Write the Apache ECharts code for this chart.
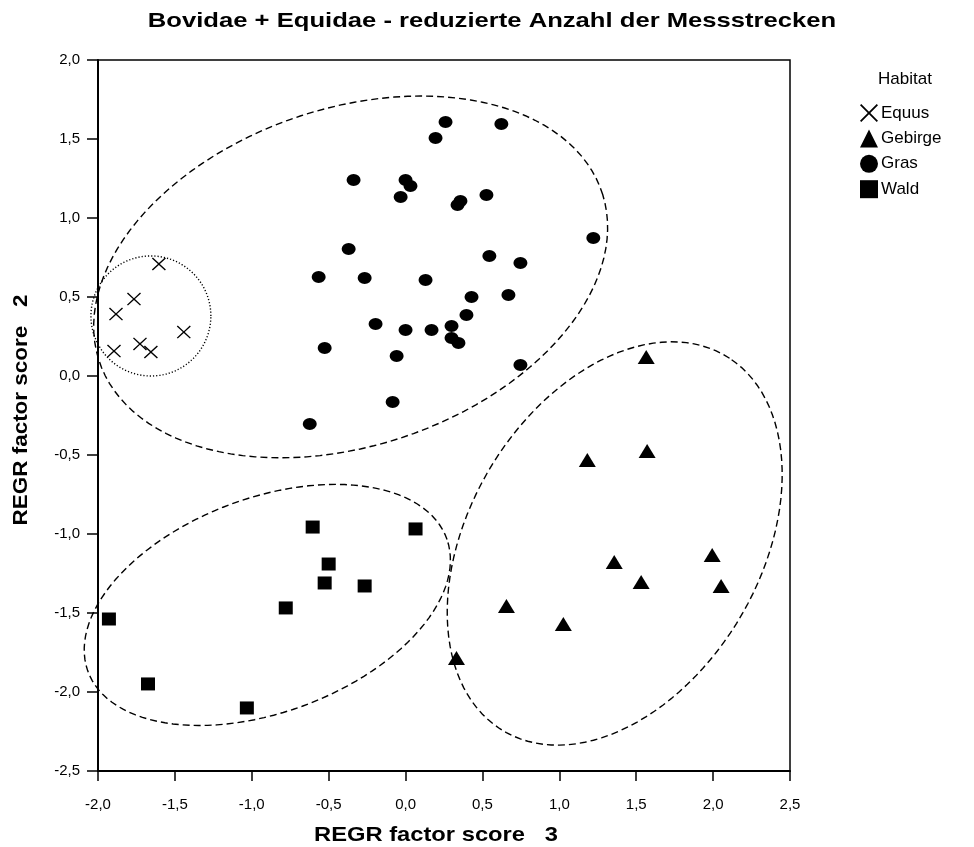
<!DOCTYPE html>
<html>
<head>
<meta charset="utf-8">
<script src="https://cdn.jsdelivr.net/npm/echarts@6/dist/echarts.min.js"></script>
<style>
html,body{margin:0;padding:0;background:#fff;}
#chart{width:974px;height:847px;}
</style>
</head>
<body>
<div id="chart"></div>
<script>
// ---- data ----
const equus = [[-1.604,0.709],[-1.766,0.487],[-1.883,0.392],[-1.442,0.278],[-1.727,0.203],[-1.656,0.152],[-1.896,0.158]];
const gebirge = [[1.565,0.120],[1.182,-0.532],[1.571,-0.475],[1.357,-1.177],[1.532,-1.304],[1.994,-1.133],[2.052,-1.329],[0.656,-1.456],[1.026,-1.570],[0.331,-1.785]];
const gras = [[0.260,1.608],[0.195,1.506],[0.623,1.595],[0.000,1.241],[0.032,1.203],[-0.032,1.133],[0.357,1.108],[0.338,1.082],[0.526,1.146],[1.221,0.873],[0.545,0.759],[0.747,0.715],[0.130,0.608],[0.429,0.500],[0.669,0.513],[0.396,0.386],[0.169,0.291],[0.000,0.291],[0.299,0.316],[0.299,0.241],[0.344,0.209],[-0.058,0.127],[0.747,0.070],[-0.338,1.241],[-0.370,0.804],[-0.565,0.627],[-0.266,0.620],[-0.195,0.329],[-0.526,0.177],[-0.084,-0.165],[-0.623,-0.304]];
const wald = [[-0.604,-0.956],[0.065,-0.968],[-0.500,-1.190],[-0.526,-1.310],[-0.266,-1.329],[-0.779,-1.468],[-1.929,-1.538],[-1.675,-1.949],[-1.032,-2.101]];
// annotation ellipses: [centerX, centerY, semiAxisA, semiAxisB, angleDeg]
const dashedEllipses = [[-0.357,0.627,1.72,1.07,17.6],[-0.899,-1.449,1.24,0.68,19.5],[1.36,-1.06,1.39,0.94,57.5]];
const dottedEllipses = [[-1.656,0.380,0.39,0.38,0]];
const habitatNames = ['Equus','Gebirge','Gras','Wald'];
const xTicks = {min:-2.0, max:2.5, step:0.5};
const yTicks = {min:-2.5, max:2.0, step:0.5};

const FONT = '"Liberation Sans", Arial, sans-serif';
const crossPath = 'path://M0,7L7,0L50,43L93,0L100,7L57,50L100,93L93,100L50,57L7,100L0,93L43,50Z';
const fmt = v => v.toFixed(1).replace('.', ',');

function ellipseRenderer(dash){
  return function(params, api){
    const cx = api.value(0), cy = api.value(1), a = api.value(2), b = api.value(3), ang = api.value(4)*Math.PI/180;
    const pts = [];
    const N = 120;
    for(let i=0;i<N;i++){
      const t = 2*Math.PI*i/N;
      const ex = a*Math.cos(t), ey = b*Math.sin(t);
      const x = cx + ex*Math.cos(ang) - ey*Math.sin(ang);
      const y = cy + ex*Math.sin(ang) + ey*Math.cos(ang);
      pts.push(api.coord([x,y]));
    }
    return {type:'polygon', shape:{points:pts}, silent:true,
      style:{fill:'none', stroke:'#000', lineWidth:1.4, lineDash:dash}};
  };
}

const chart = echarts.init(document.getElementById('chart'), null, {renderer:'canvas'});
chart.setOption({
  backgroundColor:'#fff',
  animation:false,
  grid:{left:98, right:184, top:60, bottom:76, show:true, borderColor:'#000', borderWidth:1.5, backgroundColor:'transparent'},
  xAxis:{type:'value', min:xTicks.min, max:xTicks.max, interval:xTicks.step,
    axisLine:{show:true, onZero:false, lineStyle:{color:'#000', width:2}},
    axisTick:{show:true, length:10, lineStyle:{color:'#000', width:1.5}},
    axisLabel:{formatter:fmt, color:'#000', fontFamily:FONT, fontSize:15, margin:26},
    splitLine:{show:false}},
  yAxis:{type:'value', min:yTicks.min, max:yTicks.max, interval:yTicks.step,
    axisLine:{show:true, onZero:false, lineStyle:{color:'#000', width:2}},
    axisTick:{show:true, length:11, lineStyle:{color:'#000', width:1.5}},
    axisLabel:{formatter:fmt, color:'#000', fontFamily:FONT, fontSize:15, margin:18},
    splitLine:{show:false}},
  legend:{orient:'vertical', left:860, top:104, padding:0, itemWidth:18, itemHeight:18, itemGap:7.4,
    data:habitatNames, textStyle:{fontFamily:FONT, fontSize:17, color:'#000', padding:[0,0,0,-2]}},
  graphic:[
    {type:'text', x:492, y:21, scaleX:1.22, style:{text:'Bovidae + Equidae - reduzierte Anzahl der Messstrecken', font:'bold 21px '+FONT, fill:'#000', textAlign:'center', textVerticalAlign:'middle'}},
    {type:'text', x:436, y:835, scaleX:1.13, style:{text:'REGR factor score   3', font:'bold 21px '+FONT, fill:'#000', textAlign:'center', textVerticalAlign:'middle'}},
    {type:'text', x:21, y:410, rotation:Math.PI/2, scaleX:1.07, style:{text:'REGR factor score   2', font:'bold 21px '+FONT, fill:'#000', textAlign:'center', textVerticalAlign:'middle'}},
    {type:'text', x:905, y:79, style:{text:'Habitat', font:'17px '+FONT, fill:'#000', textAlign:'center', textVerticalAlign:'middle'}}
  ],
  series:[
    {type:'custom', name:'ellipsesDashed', renderItem:ellipseRenderer([7,4]), data:dashedEllipses, clip:false, z:1, silent:true},
    {type:'custom', name:'ellipseDotted', renderItem:ellipseRenderer([1.2,2]), data:dottedEllipses, clip:false, z:1, silent:true},
    {type:'scatter', name:'Equus', data:equus, symbol:crossPath, symbolSize:[14,13], itemStyle:{color:'#000', opacity:1}, z:3},
    {type:'scatter', name:'Gebirge', data:gebirge, symbol:'triangle', symbolSize:[17,14], itemStyle:{color:'#000', opacity:1}, z:3},
    {type:'scatter', name:'Gras', data:gras, symbol:'circle', symbolSize:[14,12], itemStyle:{color:'#000', opacity:1}, z:3},
    {type:'scatter', name:'Wald', data:wald, symbol:'rect', symbolSize:[14,13], itemStyle:{color:'#000', opacity:1}, z:3}
  ]
});
</script>
</body>
</html>
